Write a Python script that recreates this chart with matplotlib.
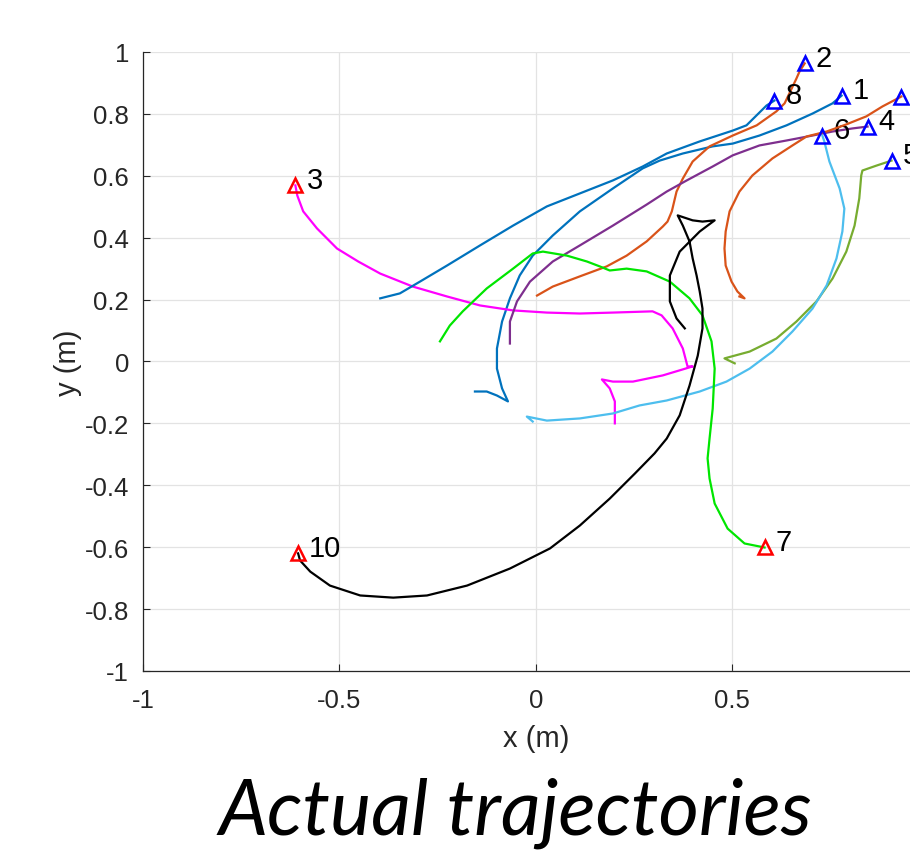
import matplotlib
matplotlib.use("Agg")
import matplotlib.pyplot as plt

plt.rcParams['font.family'] = ['Liberation Sans', 'DejaVu Sans']

# trajectories in metres, one robot per entry (x list, y list)
traj_1_x = [0.778, 0.755, 0.704, 0.638, 0.569, 0.501, 0.450, 0.374, 0.315, 0.272, 0.196, 0.112,
            0.043, -0.008, -0.041, -0.066, -0.086, -0.099, -0.099, -0.086, -0.071, -0.099, -0.125, -0.155]
traj_1_y = [0.859, 0.834, 0.801, 0.763, 0.730, 0.704, 0.695, 0.672, 0.649, 0.624, 0.559, 0.485,
            0.407, 0.342, 0.278, 0.204, 0.129, 0.042, -0.023, -0.087, -0.129, -0.110, -0.097, -0.097]

traj_2_x = [0.684, 0.671, 0.663, 0.651, 0.633, 0.612, 0.562, 0.501, 0.442, 0.399, 0.374, 0.358,
            0.346, 0.335, 0.323, 0.282, 0.231, 0.180, 0.112, 0.043, 0.003]
traj_2_y = [0.963, 0.937, 0.914, 0.882, 0.834, 0.808, 0.763, 0.730, 0.695, 0.646, 0.591, 0.549,
            0.485, 0.452, 0.436, 0.388, 0.342, 0.307, 0.275, 0.242, 0.213]

traj_3_x = [-0.612, -0.607, -0.592, -0.557, -0.506, -0.452, -0.396, -0.313, -0.226, -0.142, -0.058,
            0.028, 0.112, 0.196, 0.297, 0.320, 0.348, 0.374, 0.386, 0.399, 0.323, 0.247, 0.196,
            0.168, 0.188, 0.201, 0.201]
traj_3_y = [0.569, 0.536, 0.485, 0.430, 0.365, 0.323, 0.284, 0.242, 0.210, 0.181, 0.165,
            0.158, 0.155, 0.158, 0.162, 0.149, 0.107, 0.042, -0.016, -0.016, -0.045, -0.065, -0.065,
            -0.058, -0.087, -0.129, -0.200]

traj_4_x = [0.844, 0.806, 0.755, 0.704, 0.638, 0.569, 0.501, 0.450, 0.384, 0.333, 0.282, 0.196,
            0.112, 0.043, -0.015, -0.048, -0.066, -0.066]
traj_4_y = [0.759, 0.753, 0.743, 0.730, 0.714, 0.698, 0.666, 0.630, 0.585, 0.549, 0.507, 0.439,
            0.375, 0.323, 0.258, 0.194, 0.129, 0.058]

traj_5_x = [0.905, 0.867, 0.831, 0.828, 0.823, 0.811, 0.790, 0.755, 0.714, 0.663, 0.612, 0.544,
            0.480, 0.506]
traj_5_y = [0.649, 0.633, 0.617, 0.601, 0.527, 0.439, 0.355, 0.268, 0.194, 0.129, 0.074, 0.032,
            0.010, -0.006]

traj_6_x = [0.729, 0.734, 0.747, 0.773, 0.785, 0.780, 0.765, 0.740, 0.704, 0.653, 0.602, 0.544,
            0.485, 0.417, 0.333, 0.290, 0.264, 0.196, 0.112, 0.028, -0.023, -0.008]
traj_6_y = [0.730, 0.711, 0.646, 0.559, 0.494, 0.420, 0.333, 0.246, 0.171, 0.097, 0.032, -0.023,
            -0.065, -0.097, -0.126, -0.136, -0.142, -0.168, -0.184, -0.191, -0.178, -0.194]

traj_7_x = [0.582, 0.531, 0.488, 0.455, 0.442, 0.437, 0.442, 0.450, 0.455, 0.447, 0.424, 0.391,
            0.341, 0.282, 0.231, 0.188, 0.163, 0.130, 0.079, 0.018, -0.008, -0.058, -0.125, -0.186,
            -0.219, -0.244]
traj_7_y = [-0.601, -0.588, -0.540, -0.459, -0.378, -0.313, -0.249, -0.152, -0.023, 0.065, 0.149,
            0.204, 0.258, 0.291, 0.300, 0.294, 0.307, 0.323, 0.342, 0.355, 0.349, 0.300, 0.236,
            0.162, 0.116, 0.065]

traj_8_x = [0.607, 0.587, 0.536, 0.501, 0.417, 0.333, 0.272, 0.196, 0.112, 0.028, -0.058, -0.142,
            -0.226, -0.295, -0.346, -0.396]
traj_8_y = [0.843, 0.827, 0.763, 0.746, 0.711, 0.672, 0.630, 0.585, 0.543, 0.501, 0.439, 0.375,
            0.310, 0.258, 0.220, 0.204]

traj_9_x = [0.930, 0.882, 0.841, 0.790, 0.740, 0.689, 0.653, 0.602, 0.551, 0.518, 0.493, 0.483,
            0.480, 0.483, 0.498, 0.513, 0.531, 0.518]
traj_9_y = [0.856, 0.824, 0.792, 0.766, 0.743, 0.727, 0.698, 0.656, 0.601, 0.549, 0.485, 0.420,
            0.365, 0.310, 0.258, 0.226, 0.204, 0.210]

traj_10_x = [-0.605, -0.600, -0.574, -0.524, -0.447, -0.363, -0.277, -0.175, -0.066, 0.036, 0.112,
             0.188, 0.252, 0.302, 0.333, 0.366, 0.391, 0.412, 0.424, 0.424, 0.417, 0.409, 0.399,
             0.391, 0.374, 0.361, 0.399, 0.424, 0.455, 0.417, 0.366, 0.341, 0.341, 0.358, 0.379]
traj_10_y = [-0.620, -0.643, -0.679, -0.724, -0.756, -0.763, -0.756, -0.724, -0.669, -0.604, -0.530,
             -0.443, -0.362, -0.297, -0.249, -0.174, -0.078, 0.019, 0.107, 0.171, 0.226, 0.278, 0.333,
             0.388, 0.439, 0.472, 0.456, 0.452, 0.456, 0.420, 0.355, 0.278, 0.194, 0.139, 0.107]

robots = [1, 2, 3, 4, 5, 6, 7, 8, 9, 10]
# robot 9's label falls outside the picture in the reference, so it is left blank
robot_labels = ['1', '2', '3', '4', '5', '6', '7', '8', '', '10']
xs = [traj_1_x, traj_2_x, traj_3_x, traj_4_x, traj_5_x, traj_6_x, traj_7_x, traj_8_x, traj_9_x, traj_10_x]
ys = [traj_1_y, traj_2_y, traj_3_y, traj_4_y, traj_5_y, traj_6_y, traj_7_y, traj_8_y, traj_9_y, traj_10_y]
colors = ['#0072BD', '#D95319', '#FF00FF', '#7E2F8E', '#77AC30', '#4DBEEE',
          '#00E600', '#0072BD', '#D95319', '#000000']
marker_colors = ['blue', 'blue', 'red', 'blue', 'blue', 'blue', 'red', 'blue', 'blue', 'red']

x_ticks = [-1, -0.5, 0, 0.5, 1]
x_ticklabels = ['-1', '-0.5', '0', '0.5', '']
y_ticks = [-1, -0.8, -0.6, -0.4, -0.2, 0, 0.2, 0.4, 0.6, 0.8, 1]
y_ticklabels = ['-1', '-0.8', '-0.6', '-0.4', '-0.2', '0', '0.2', '0.4', '0.6', '0.8', '1']

fig = plt.figure(figsize=(9.1, 8.53), dpi=100)
ax = fig.add_axes([0.157, 0.2122, 0.8637, 0.7257])

for i, robot in enumerate(robots):
    ax.plot(xs[i], ys[i], color=colors[i], lw=1.6, zorder=3)
    ax.plot(xs[i][0], ys[i][0], marker='^', ms=10, mfc='none', mec=marker_colors[i],
            mew=1.8, zorder=5, clip_on=False)
    if robot_labels[i]:
        ax.annotate(robot_labels[i], (xs[i][0], ys[i][0]), xytext=(8, 4), textcoords='offset points',
                    fontsize=21, ha='left', va='center', annotation_clip=False)

ax.set_xlim(-1, 1)
ax.set_ylim(-1, 1)
ax.set_xticks(x_ticks)
ax.set_xticklabels(x_ticklabels)
ax.set_yticks(y_ticks)
ax.set_yticklabels(y_ticklabels)
ax.tick_params(direction='in', length=5, width=0.8, labelsize=18.5, colors='#262626')
ax.tick_params(axis='y', pad=10)
ax.tick_params(axis='x', pad=12)
ax.grid(True, color='#E3E3E3', lw=0.9)
ax.set_axisbelow(True)
for side in ['top', 'right']:
    ax.spines[side].set_visible(False)
for side in ['left', 'bottom']:
    ax.spines[side].set_color('#262626')
    ax.spines[side].set_linewidth(0.9)

ax.set_xlabel('x (m)', fontsize=21, color='#262626', labelpad=9)
ax.set_ylabel('y (m)', fontsize=21, color='#262626', labelpad=2)

fig.text(0.566, 0.022, 'Actual trajectories', family=['Lato', 'DejaVu Sans'], style='italic',
         fontsize=56, ha='center', va='baseline')

fig.savefig('out.png', dpi=100)
